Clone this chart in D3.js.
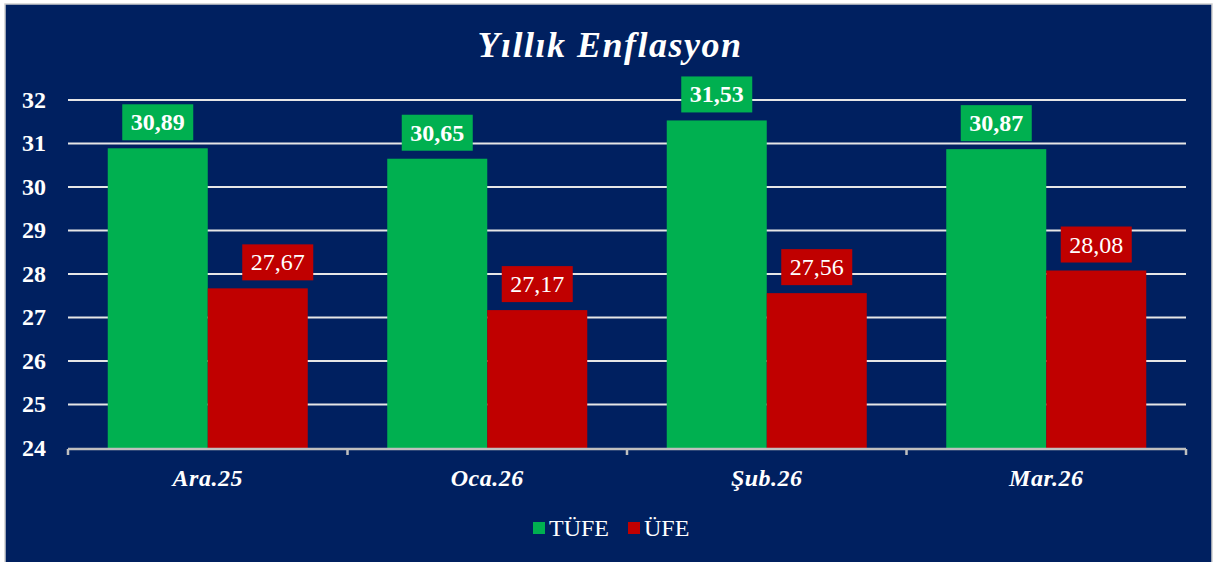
<!DOCTYPE html>
<html lang="tr">
  <head>
    <meta charset="UTF-8" />
    <title>Yıllık Enflasyon – D3.js</title>
    <script src="https://d3js.org/d3.v7.min.js"></script>
    <style>
      body {
        margin: 0;
        background: #ffffff;
      }
      svg text {
        font-family: 'Liberation Serif', 'Times New Roman', serif;
      }
    </style>
  </head>
  <body>
    <svg width="1215" height="562"></svg>

    <script>
      // data
      const categories = ['Ara.25', 'Oca.26', 'Şub.26', 'Mar.26'];
      const seriesNames = ['TÜFE', 'ÜFE'];
      const tufeValues = [30.89, 30.65, 31.53, 30.87];
      const ufeValues = [27.67, 27.17, 27.56, 28.08];
      const yTicks = [24, 25, 26, 27, 28, 29, 30, 31, 32];

      const colors = { TÜFE: '#00B050', ÜFE: '#C00000' };
      const navy = '#002060';

      const svg = d3.select('svg');

      // chart background with light border
      svg
        .append('rect')
        .attr('x', 5)
        .attr('y', 4)
        .attr('width', 1207)
        .attr('height', 570)
        .attr('fill', navy)
        .attr('stroke', '#d0d0d0')
        .attr('stroke-width', 1.5);

      // title
      svg
        .append('text')
        .attr('x', 610)
        .attr('y', 57)
        .attr('text-anchor', 'middle')
        .attr('fill', '#ffffff')
        .style('font-size', '36px')
        .style('font-weight', 'bold')
        .style('font-style', 'italic')
        .style('letter-spacing', '1.5px')
        .text('Yıllık Enflasyon');

      const plotLeft = 68,
        plotRight = 1186,
        plotTop = 100,
        plotBottom = 448;

      const y = d3
        .scaleLinear()
        .domain([24, 32])
        .range([plotBottom, plotTop]);

      const x0 = d3
        .scaleBand()
        .domain(categories)
        .range([plotLeft, plotRight]);
      const x1 = d3
        .scaleBand()
        .domain(seriesNames)
        .range([0, x0.bandwidth()])
        .paddingInner(0)
        .paddingOuter(0.3975);

      // gridlines
      svg
        .append('g')
        .selectAll('line')
        .data(yTicks.filter((t) => t > 24))
        .join('line')
        .attr('x1', plotLeft)
        .attr('x2', plotRight)
        .attr('y1', (d) => y(d))
        .attr('y2', (d) => y(d))
        .attr('stroke', '#e6e6e6')
        .attr('stroke-width', 2);

      // y tick labels
      svg
        .append('g')
        .selectAll('text')
        .data(yTicks)
        .join('text')
        .attr('x', 46)
        .attr('y', (d) => y(d))
        .attr('dy', '0.33em')
        .attr('text-anchor', 'end')
        .attr('fill', '#ffffff')
        .style('font-size', '24px')
        .style('font-weight', 'bold')
        .text((d) => d);

      const rows = categories.map((c, i) => ({
        cat: c,
        values: [
          { key: 'TÜFE', value: tufeValues[i] },
          { key: 'ÜFE', value: ufeValues[i] },
        ],
      }));

      const groups = svg
        .append('g')
        .selectAll('g')
        .data(rows)
        .join('g')
        .attr('transform', (d) => `translate(${x0(d.cat)},0)`);

      groups
        .selectAll('rect')
        .data((d) => d.values)
        .join('rect')
        .attr('x', (d) => x1(d.key))
        .attr('y', (d) => y(d.value))
        .attr('width', x1.bandwidth())
        .attr('height', (d) => y(24) - y(d.value))
        .attr('fill', (d) => colors[d.key]);

      // x axis line with ticks
      const axis = svg
        .append('g')
        .attr('transform', `translate(0,${plotBottom + 1})`);
      axis
        .append('line')
        .attr('x1', plotLeft)
        .attr('x2', plotRight)
        .attr('stroke', '#bfbfbf')
        .attr('stroke-width', 2.5);
      axis
        .selectAll('line.tick')
        .data(categories.map((c) => x0(c)).concat([plotRight]))
        .join('line')
        .attr('class', 'tick')
        .attr('x1', (d) => d)
        .attr('x2', (d) => d)
        .attr('y1', 0)
        .attr('y2', 6)
        .attr('stroke', '#bfbfbf')
        .attr('stroke-width', 2.5);

      // x labels
      svg
        .append('g')
        .selectAll('text')
        .data(categories)
        .join('text')
        .attr('x', (d) => x0(d) + x0.bandwidth() / 2)
        .attr('y', 486)
        .attr('text-anchor', 'middle')
        .attr('fill', '#ffffff')
        .style('font-size', '24px')
        .style('font-weight', 'bold')
        .style('font-style', 'italic')
        .style('letter-spacing', '0.5px')
        .text((d) => d);

      // value labels in coloured boxes
      // the first ÜFE label was dragged a little to the right in the original
      const fmt = (v) => v.toFixed(2).replace('.', ',');
      const nudge = (cat, key) => (cat === 'Ara.25' && key === 'ÜFE' ? 20 : 0);
      const labels = groups
        .selectAll('g.lbl')
        .data((d) => d.values.map((v) => ({ ...v, cat: d.cat })))
        .join('g')
        .attr('class', 'lbl')
        .attr(
          'transform',
          (d) =>
            `translate(${x1(d.key) + x1.bandwidth() / 2 + nudge(d.cat, d.key)},${y(d.value) - 8})`,
        );
      labels
        .append('rect')
        .attr('x', -35.5)
        .attr('y', -36)
        .attr('width', 71)
        .attr('height', 36)
        .attr('fill', (d) => colors[d.key]);
      labels
        .append('text')
        .attr('y', -10)
        .attr('text-anchor', 'middle')
        .attr('fill', '#ffffff')
        .style('font-size', '24px')
        .style('font-weight', (d) => (d.key === 'TÜFE' ? 'bold' : 'normal'))
        .text((d) => fmt(d.value));

      // legend
      const legend = svg
        .append('g')
        .selectAll('g')
        .data(seriesNames)
        .join('g')
        .attr('transform', (d, i) => `translate(${533 + i * 95},522)`);
      legend
        .append('rect')
        .attr('width', 12)
        .attr('height', 12)
        .attr('fill', (d) => colors[d]);
      legend
        .append('text')
        .attr('x', 16)
        .attr('y', 14)
        .attr('fill', '#ffffff')
        .style('font-size', '24px')
        .text((d) => d);
    </script>
  </body>
</html>
